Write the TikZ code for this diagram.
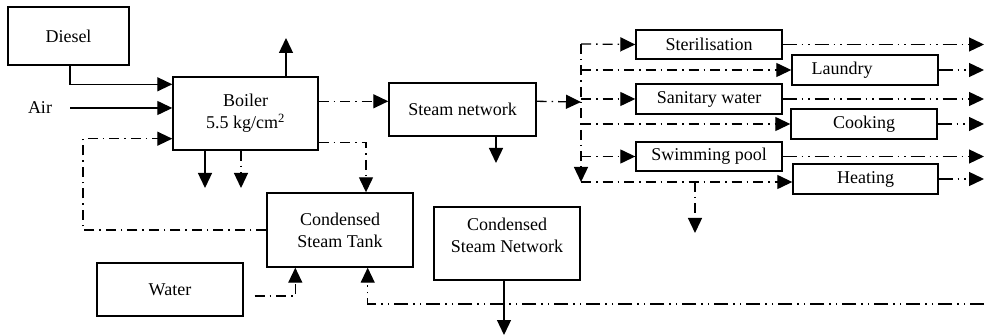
\documentclass[tikz,border=0pt]{standalone}
\usepackage{fontspec}
\setmainfont{Liberation Serif}
\usetikzlibrary{arrows.meta,calc}
\tikzset{
 box/.style={draw, line width=1.4pt, inner sep=0pt, font=\rmfamily\fontsize{18}{22}\selectfont, align=center},
 lbl/.style={inner sep=0pt, font=\rmfamily\fontsize{18}{22}\selectfont, align=center},
 arr/.style={line width=1.3pt, -{Triangle[length=15pt,width=14pt]}},
 dd/.style={dash pattern=on 10pt off 5pt on 1.5pt off 5pt},
 ddd/.style={dash pattern=on 14pt off 5pt on 1.5pt off 5pt on 1.5pt off 5pt},
}
\begin{document}
\begin{tikzpicture}[x=1pt,y=-1pt]
\useasboundingbox (0,0) rectangle (984,336);
% boxes
\node[box, minimum width=121pt, minimum height=58pt] (diesel) at (68.5,36) {Diesel};
\node[box, minimum width=145pt, minimum height=73pt] (boiler) at (245.5,113.5) {Boiler\\5.5 kg/cm\textsuperscript{2}};
\node[box, minimum width=147pt, minimum height=53pt] (sn) at (462.5,109.5) {Steam network};
\node[box, minimum width=146pt, minimum height=74pt] (tank) at (340,230) {Condensed\\Steam Tank};
\node[box, minimum width=146pt, minimum height=73pt] (csn) at (507,243.5) {};
\node[lbl] (csnlbl) at (507,235) {Condensed\\Steam Network};
\node[box, minimum width=146pt, minimum height=53pt] (water) at (170,289.5) {Water};
\node[box, minimum width=146pt, minimum height=29pt] (ster) at (709,44.5) {Sterilisation};
\node[box, minimum width=146pt, minimum height=30pt] (laun) at (865,70) {};
\node[lbl] (launlbl) at (842,70) {Laundry};
\node[box, minimum width=146pt, minimum height=30pt] (sani) at (709,99) {Sanitary water};
\node[box, minimum width=146pt, minimum height=30pt] (cook) at (864,124) {Cooking};
\node[box, minimum width=146pt, minimum height=29pt] (swim) at (709,156.5) {Swimming pool};
\node[box, minimum width=145pt, minimum height=30pt] (heat) at (865.5,179) {Heating};
\node[lbl] (air) at (40,108) {Air};
% coordinates
\coordinate (airS) at (70,108);
\coordinate (exhaust) at (286,38);
\coordinate (drainA) at (205,188);
\coordinate (drainB) at (241,188);
\coordinate (loopL) at (83,229);
\coordinate (snOut) at (496,163);
\coordinate (distTop) at (581,44);
\coordinate (distBot) at (581,182);
\coordinate (heatOut) at (695,233);
\coordinate (edgeX) at (984,0);
\coordinate (bottomR) at (984,304);
\coordinate (csnOut) at (504,335);
% boiler inputs
\draw[arr] (diesel.south -| 70,0) |- ($(boiler.north west)+(0,8)$);
\draw[arr] (airS) -- (airS -| boiler.west);
\draw[arr,dd] (tank.west) -| (loopL) |- ($(boiler.south west)+(0,-12)$);
% boiler outputs
\draw[arr] (exhaust |- boiler.north) -- (exhaust);
\draw[arr] (drainA |- boiler.south) -- (drainA);
\draw[arr,dd] (drainB |- boiler.south) -- (drainB);
\draw[arr,dd] ($(boiler.north east)+(0,25)$) -- ($(sn.north west)+(0,19)$);
\draw[arr,dd] ($(boiler.south east)+(0,-8)$) -| ($(tank.north)+(26,0)$);
% steam network
\draw[arr] (snOut |- sn.south) -- (snOut);
\draw[arr,dd] ($(sn.north east)+(0,19)$) -- ($(distTop)+(0,58)$);
\draw[arr,dd] (distTop) -- (distBot);
\draw[arr,dd] (distTop) -- (ster.west);
\draw[arr,dd] (distTop |- laun.west) -- (laun.west);
\draw[arr,dd] (distTop |- sani.west) -- (sani.west);
\draw[arr,dd] (distTop |- cook.west) -- (cook.west);
\draw[arr,dd] (distTop |- swim.west) -- (swim.west);
\draw[arr,dd] (distBot) -- (distBot -| heat.west);
\draw[arr,dd] (heatOut |- distBot) -- (heatOut);
% outputs to right
\draw[arr,ddd] (ster.east) -- (ster.east -| edgeX);
\draw[arr,ddd] (laun.east) -- (laun.east -| edgeX);
\draw[arr,ddd] (sani.east) -- (sani.east -| edgeX);
\draw[arr,ddd] (cook.east) -- (cook.east -| edgeX);
\draw[arr,ddd] (swim.east) -- (swim.east -| edgeX);
\draw[arr,ddd] (heat.east) -- (heat.east -| edgeX);
% condensate
\draw[arr,dd] ($(water.east)+(11,6.5)$) -| ($(tank.south west)+(29,0)$);
\draw[arr,ddd] (bottomR) -| ($(tank.south east)+(-46,0)$);
\draw[arr] (csnOut |- csn.south) -- (csnOut);
\end{tikzpicture}
\end{document}
